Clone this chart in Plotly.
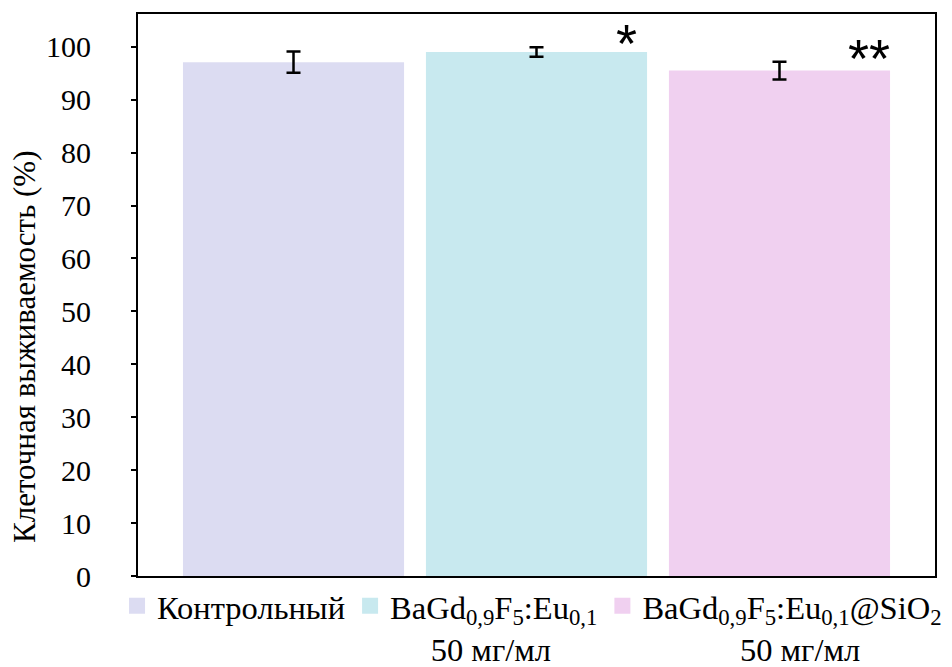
import plotly.graph_objects as go

# Groups, their dose labels and measured cell survival (mean ± error)
group_names = [
    "Контрольный",
    "BaGd<sub>0,9</sub>F<sub>5</sub>:Eu<sub>0,1</sub>",
    "BaGd<sub>0,9</sub>F<sub>5</sub>:Eu<sub>0,1</sub>@SiO<sub>2</sub>",
]
dose_labels = ["", "50 мг/мл", "50 мг/мл"]
dose_indent = [0, 5, 12]
survival = [97.1, 99.0, 95.5]
errors = [2.0, 0.9, 1.7]
significance = ["", "*", "**"]
colors = ["#DCDCF2", "#C8E9EF", "#F0D0F0"]
y_ticks = [0, 10, 20, 30, 40, 50, 60, 70, 80, 90, 100]
y_title = "Клеточная выживаемость (%)"

SERIF = "Liberation Serif, DejaVu Serif, serif"

fig = go.Figure()
for i, name in enumerate(group_names):
    label = name
    if dose_labels[i]:
        label += "<br>" + "\u00a0" * dose_indent[i] + dose_labels[i]
    fig.add_trace(go.Bar(
        x=[i], y=[survival[i]],
        name=label, legendgroup=str(i), showlegend=False,
        width=0.91,
        marker=dict(color=colors[i], line=dict(width=0)),
        error_y=dict(type="data", array=[errors[i]], visible=True,
                     color="black", thickness=2.5, width=7),
    ))
    # square swatch for the legend entry of this group
    fig.add_trace(go.Scatter(
        x=[None], y=[None], mode="markers",
        name=label, legendgroup=str(i), showlegend=True,
        marker=dict(symbol="square", size=16, color=colors[i],
                    line=dict(width=0)),
    ))
    if significance[i]:
        fig.add_annotation(
            x=i, y=survival[i] + errors[i], xref="x", yref="y",
            text=significance[i], showarrow=False,
            xshift=90, yshift=4, yanchor="middle",
            font=dict(family="Liberation Sans", size=54, color="black"),
        )

# Vertical axis title, set as a rotated annotation left of the tick labels
fig.add_annotation(
    x=-0.1418, y=0.4075, xref="paper", yref="paper",
    text=y_title, textangle=-90, showarrow=False,
    xanchor="center", yanchor="middle",
    font=dict(family=SERIF, size=31, color="black"),
)

fig.update_layout(
    width=952, height=667,
    margin=dict(l=138, r=17, t=14, b=91, autoexpand=False),
    paper_bgcolor="white", plot_bgcolor="white",
    barmode="overlay",
    font=dict(family=SERIF, size=30, color="black"),
    showlegend=True,
    legend=dict(
        orientation="h", x=-0.0263, xanchor="left", xref="paper",
        y=-0.004, yanchor="top", yref="paper", valign="top",
        font=dict(family=SERIF, size=32.5, color="black"),
        bgcolor="rgba(0,0,0,0)", tracegroupgap=0, itemwidth=30,
    ),
    xaxis=dict(
        range=[-0.64, 2.64], showticklabels=False, ticks="",
        showgrid=False, zeroline=False,
        showline=True, linecolor="black", linewidth=2, mirror=True,
    ),
    yaxis=dict(
        range=[0, 106.2], tickvals=y_ticks, ticks="outside", ticklen=5,
        tickwidth=1.5, tickcolor="black", ticklabelstandoff=34,
        showgrid=False, zeroline=False,
        showline=True, linecolor="black", linewidth=2, mirror=True,
        tickfont=dict(family=SERIF, size=30),
    ),
)

fig.write_html("out.html")
